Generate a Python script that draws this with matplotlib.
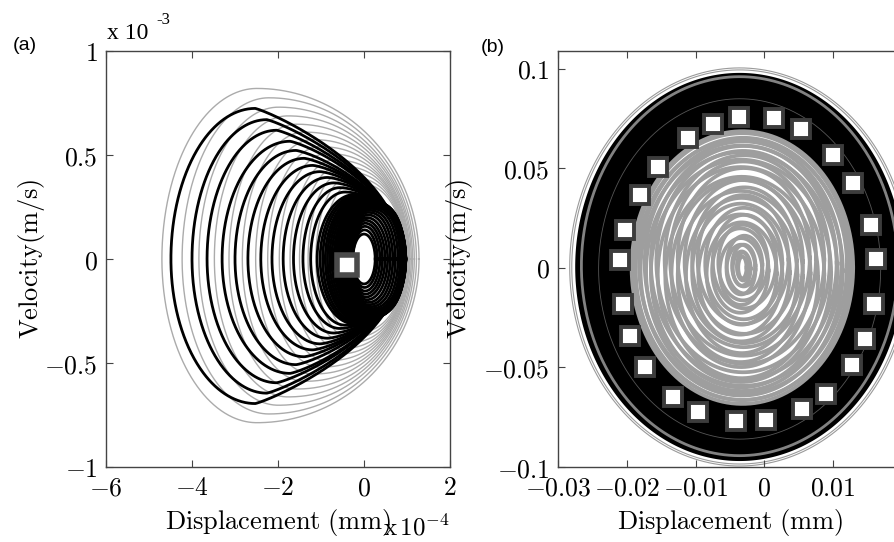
import numpy as np
import matplotlib
matplotlib.use("Agg")
import matplotlib.pyplot as plt
from matplotlib.ticker import FixedLocator, FuncFormatter

plt.rcParams["mathtext.fontset"] = "cm"

# ---- panel (a): displacement in 1e-4 mm, velocity in 1e-3 m/s ----
# per-loop extents of the decaying black orbit: left/right turning points,
# x of the velocity peak, peak and trough velocity, bluntness of the right end
black_left = [-4.49, -4.00, -3.65, -3.30, -3.00, -2.70, -2.40, -2.14, -1.88, -1.64, -1.42, -1.24,
              -1.09, -1.02, -0.96, -0.90, -0.85, -0.80, -0.75, -0.70, -0.66, -0.62, -0.58, -0.54,
              -0.50, -0.47, -0.44, -0.41, -0.38, -0.35, -0.33, -0.31, -0.30, -0.29, -0.28, -0.27,
              -0.26, -0.26]
black_right = [0.90, 0.91, 0.92, 0.93, 0.94, 0.95, 0.96, 0.97, 0.97, 0.97, 0.97, 0.97,
               0.97, 0.97, 0.97, 0.97, 0.97, 0.97, 0.96, 0.96, 0.96, 0.95, 0.95, 0.94,
               0.93, 0.91, 0.88, 0.84, 0.79, 0.73, 0.67, 0.61, 0.55, 0.49, 0.43, 0.37,
               0.31, 0.26]
black_peak_x = [-2.53, -2.26, -2.03, -1.72, -1.58, -1.39, -1.19, -1.02, -0.85, -0.70, -0.56, -0.44,
                -0.22, -0.18, -0.15, -0.11, -0.09, -0.06, -0.03, 0.00, 0.02, 0.04, 0.06, 0.08,
                0.10, 0.11, 0.11, 0.12, 0.11, 0.10, 0.09, 0.08, 0.06, 0.04, 0.03, 0.02,
                0.01, 0.00]
black_top = [0.724, 0.670, 0.619, 0.566, 0.522, 0.484, 0.450, 0.420, 0.392, 0.366, 0.343, 0.322,
             0.310, 0.305, 0.300, 0.296, 0.292, 0.289, 0.286, 0.283, 0.280, 0.277, 0.274, 0.270,
             0.266, 0.261, 0.256, 0.250, 0.243, 0.234, 0.224, 0.212, 0.199, 0.186, 0.172, 0.157,
             0.140, 0.120]
black_bottom = [-0.695, -0.645, -0.595, -0.550, -0.508, -0.470, -0.437, -0.408, -0.381, -0.356, -0.334, -0.318,
                -0.312, -0.308, -0.304, -0.300, -0.296, -0.292, -0.288, -0.284, -0.280, -0.276, -0.272, -0.268,
                -0.263, -0.258, -0.252, -0.246, -0.239, -0.230, -0.220, -0.209, -0.196, -0.183, -0.169, -0.154,
                -0.137, -0.120]
black_blunt = [1.75, 1.72, 1.68, 1.64, 1.58, 1.52, 1.45, 1.38, 1.30, 1.22, 1.14, 1.06,
               1.00, 0.95, 0.90, 0.85, 0.80, 0.75, 0.70, 0.70, 0.65, 0.65, 0.60, 0.60,
               0.60, 0.60, 0.65, 0.70, 0.75, 0.80, 0.85, 0.90, 0.95, 1.00, 1.00, 1.00,
               1.00, 1.00]

# per-loop extents of the gray orbit
gray_left = [-4.70, -4.23, -3.84, -3.48, -3.14, -2.83, -2.52, -2.24, -1.97, -1.72, -1.50, -1.30, -1.12, -0.96]
gray_right = [1.28, 1.22, 1.17, 1.13, 1.10, 1.07, 1.05, 1.03, 1.01, 1.00, 0.99, 0.98, 0.97, 0.96]
gray_peak_x = [-2.49, -2.21, -1.99, -1.77, -1.57, -1.39, -1.20, -1.03, -0.87, -0.71, -0.58, -0.46, -0.35, -0.25]
gray_top = [0.820, 0.775, 0.730, 0.688, 0.648, 0.610, 0.574, 0.540, 0.507, 0.476, 0.447, 0.419, 0.393, 0.368]
gray_bottom = [-0.787, -0.745, -0.703, -0.663, -0.625, -0.588, -0.553, -0.520, -0.489, -0.459, -0.431, -0.404, -0.379, -0.355]
gray_blunt = [1.0, 1.0, 0.98, 0.96, 0.94, 0.92, 0.90, 0.88, 0.86, 0.84, 0.82, 0.80, 0.80, 0.80]

start_a = (-0.40, -0.027)

# ---- panel (b): displacement in mm, velocity in m/s ----
orbit_center = (-0.0036, 0.0005)
outer_hw = [0.0247, 0.0244]
outer_hh = [0.1000, 0.0990]
band_hw, band_hh = 0.0239, 0.0975
gray_band_hw, gray_band_hh = 0.0230, 0.0952

core_center = (-0.0032, 0.0002)
core_hw = [0.6, 0.9, 1.3, 1.7, 2.1, 2.6, 3.1, 3.6, 4.1, 4.6, 5.1, 5.6, 6.1, 6.6, 7.1, 7.6, 8.1, 8.6,
           9.1, 9.6, 10.1, 10.6, 11.1, 11.6, 12.1, 12.6, 13.1, 13.5, 13.9, 14.3, 14.7, 15.1, 15.5, 15.8, 16.1]
core_hh = [0.55, 0.70, 0.86, 1.05, 1.25, 1.45, 1.68, 1.90, 2.12, 2.35, 2.57, 2.80, 3.02, 3.24, 3.46, 3.68,
           3.90, 4.10, 4.30, 4.50, 4.70, 4.88, 5.06, 5.24, 5.40, 5.56, 5.72, 5.86, 6.00, 6.14, 6.28, 6.42,
           6.56, 6.70, 6.85]
core_dy = [0.0, 0.05, -0.05, 0.1, -0.1, 0.15, -0.2, 0.25, -0.15, 0.3, -0.3, 0.2, -0.35, 0.4, -0.25, 0.35,
           -0.4, 0.3, -0.45, 0.5, -0.3, 0.45, -0.5, 0.4, -0.35, 0.3, -0.3, 0.25, -0.2, 0.2, -0.15, 0.1,
           -0.1, 0.05, 0.0]
core_dx = [0.0, 0.1, -0.1, 0.2, -0.2, 0.3, -0.2, 0.1, -0.3, 0.3, -0.1, 0.2, -0.3, 0.1, -0.2, 0.3,
           -0.1, 0.2, -0.3, 0.2, -0.2, 0.1, -0.1, 0.3, -0.2, 0.1, -0.2, 0.2, -0.1, 0.1, -0.1, 0.1,
           0.0, 0.0, 0.0]

sq_x = [-0.0111, -0.0075, -0.0037, 0.0014, 0.0053, 0.0100, 0.0129, 0.0155, 0.0162, 0.0159,
        0.0146, 0.0127, 0.0090, 0.0055, 0.0002, -0.0041, -0.0097, -0.0133, -0.0174, -0.0196,
        -0.0206, -0.0210, -0.0203, -0.0181, -0.0155]
sq_y = [0.0654, 0.0723, 0.0760, 0.0752, 0.0697, 0.0567, 0.0429, 0.0214, 0.0046, -0.0180,
        -0.0357, -0.0488, -0.0634, -0.0710, -0.0764, -0.0769, -0.0722, -0.0648, -0.0500, -0.0340,
        -0.0180, 0.0038, 0.0189, 0.0369, 0.0508]


def orbit_loop(left, peak_x, right, top, bottom, blunt, n=900):
    # left half elliptic, right half bent by the bluntness exponent
    th = np.linspace(0, 2 * np.pi, n)
    c, s = np.cos(th), np.sin(th)
    x = np.where(c >= 0,
                 peak_x + (right - peak_x) * np.abs(c) ** blunt,
                 peak_x + (peak_x - left) * c)
    v = np.where(s >= 0, top * s, -bottom * s)
    return x, v


def ellipse(cx, cy, hw, hh, n=600):
    th = np.linspace(0, 2 * np.pi, n)
    return cx + hw * np.cos(th), cy + hh * np.sin(th)


def style_axes(ax):
    for s in ax.spines.values():
        s.set_color("#444444")
        s.set_linewidth(1.0)
    ax.tick_params(direction="in", top=True, right=True, length=5, width=0.8,
                   color="#444444", labelsize=18.5, pad=6)
    fmt = FuncFormatter(lambda v, p: "$%g$" % v)
    ax.xaxis.set_major_formatter(fmt)
    ax.yaxis.set_major_formatter(fmt)


fig = plt.figure(figsize=(8.95, 5.42), dpi=100)
W, H = 895.0, 542.0
ax1 = fig.add_axes([106 / W, 1 - 467 / H, 344 / W, 416 / H])
ax2 = fig.add_axes([558 / W, 1 - 467 / H, 344 / W, 416 / H])

# (a)
for l, xp, r, t, b, p in zip(gray_left, gray_peak_x, gray_right, gray_top, gray_bottom, gray_blunt):
    ax1.plot(*orbit_loop(l, xp, r, t, b, p), color="#ababab", lw=1.0, zorder=1)
for l, xp, r, t, b, p in zip(black_left, black_peak_x, black_right, black_top, black_bottom, black_blunt):
    ax1.plot(*orbit_loop(l, xp, r, t, b, p), color="black", lw=2.0, zorder=2)
ax1.plot(*start_a, "s", ms=14.5, mfc="white", mec="#4a4a4a", mew=4, zorder=3)

ax1.set_xlim(-6, 2)
ax1.set_ylim(-1, 1)
ax1.xaxis.set_major_locator(FixedLocator([-6, -4, -2, 0, 2]))
ax1.yaxis.set_major_locator(FixedLocator([-1, -0.5, 0, 0.5, 1]))
style_axes(ax1)
ax1.set_xlabel(r"$\mathrm{Displacement\ (mm)}$", fontsize=19, labelpad=4)
ax1.set_ylabel(r"$\mathrm{Velocity(m/s)}$", fontsize=19, labelpad=-2)

# (b)
cx, cy = orbit_center
for hw, hh in zip(outer_hw, outer_hh):
    ax2.plot(*ellipse(cx, cy, hw, hh), color="#9a9a9a", lw=0.8, zorder=1)
ax2.fill(*ellipse(cx, cy, band_hw, band_hh), color="black", lw=0, zorder=2)
ax2.plot(*ellipse(cx, cy + 0.0004, gray_band_hw, gray_band_hh), color="#828282", lw=2.0, zorder=3)
ax2.plot(*ellipse(cx, cy - 0.001, 0.0205, 0.0855), color="#555555", lw=0.6, zorder=3)

kx, ky = core_center
ax2.fill(*ellipse(kx, ky, core_hw[-1] * 1e-3, core_hh[-1] * 1e-2), color="white", lw=0, zorder=4)
for hw, hh, dx, dy in zip(core_hw, core_hh, core_dx, core_dy):
    ax2.plot(*ellipse(kx + dx * 1e-3, ky + dy * 1e-2, hw * 1e-3, hh * 1e-2),
             color="#9e9e9e", lw=2.7, zorder=5)

ax2.plot(sq_x, sq_y, "s", ls="none", ms=13.5, mfc="white", mec="#3c3c3c", mew=2.8, zorder=6)

ax2.set_xlim(-0.03, 0.02)
ax2.set_ylim(-0.1, 0.109)
ax2.xaxis.set_major_locator(FixedLocator([-0.03, -0.02, -0.01, 0, 0.01]))
ax2.yaxis.set_major_locator(FixedLocator([-0.1, -0.05, 0, 0.05, 0.1]))
style_axes(ax2)
ax2.set_xlabel(r"$\mathrm{Displacement\ (mm)}$", fontsize=19, labelpad=4)
ax2.set_ylabel(r"$\mathrm{Velocity(m/s)}$", fontsize=19, labelpad=6)

# panel tags and exponent notes
fig.text(25 / W, 1 - 46 / H, "(a)", ha="center", va="center", family="Liberation Sans", fontsize=14)
fig.text(493 / W, 1 - 48 / H, "(b)", ha="center", va="center", family="Liberation Sans", fontsize=14)
fig.text(107 / W, 1 - 39 / H, "x 10", family="Liberation Serif", fontsize=17, va="baseline")
fig.text(156 / W, 1 - 24 / H, "-3", family="Liberation Serif", fontsize=12, va="baseline")
fig.text(383 / W, 1 - 535 / H, r"$\mathrm{x}\,10^{-4}$", fontsize=18, va="baseline")

fig.savefig("out.png", dpi=100)
